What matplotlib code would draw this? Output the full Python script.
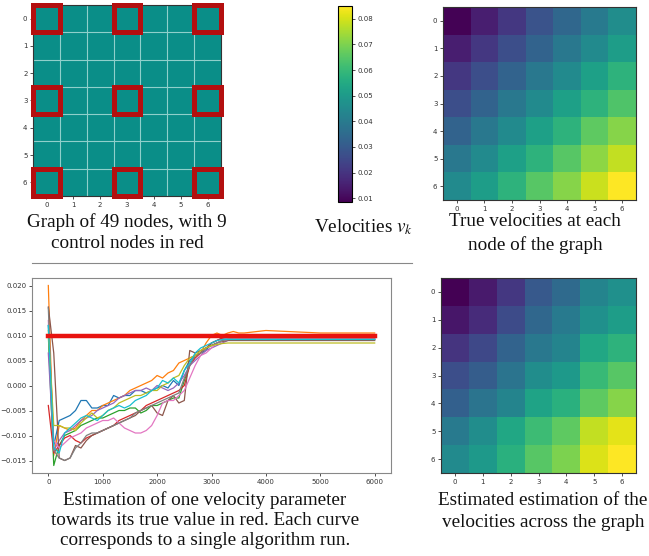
import numpy as np
import matplotlib
matplotlib.use("Agg")
import matplotlib.pyplot as plt
from matplotlib.patches import Rectangle
from matplotlib.colors import Normalize, ListedColormap

plt.rcParams["mathtext.fontset"] = "stix"

# data
n_side = 7
control_nodes = [0, 3, 6]
true_v = [
    [0.009, 0.015, 0.021, 0.028, 0.034, 0.040, 0.046],
    [0.015, 0.021, 0.027, 0.033, 0.039, 0.045, 0.051],
    [0.021, 0.027, 0.033, 0.039, 0.045, 0.052, 0.058],
    [0.027, 0.033, 0.039, 0.045, 0.052, 0.058, 0.064],
    [0.033, 0.039, 0.045, 0.052, 0.058, 0.066, 0.071],
    [0.039, 0.045, 0.052, 0.058, 0.065, 0.072, 0.078],
    [0.045, 0.051, 0.058, 0.065, 0.071, 0.079, 0.085],
]
est_v = [
    [0.008, 0.014, 0.021, 0.030, 0.035, 0.043, 0.047],
    [0.013, 0.018, 0.026, 0.034, 0.040, 0.047, 0.051],
    [0.020, 0.025, 0.033, 0.039, 0.043, 0.054, 0.058],
    [0.027, 0.031, 0.038, 0.046, 0.050, 0.060, 0.065],
    [0.032, 0.038, 0.043, 0.053, 0.057, 0.066, 0.071],
    [0.040, 0.046, 0.054, 0.061, 0.066, 0.078, 0.082],
    [0.045, 0.050, 0.057, 0.065, 0.070, 0.081, 0.086],
]
vmin, vmax = 0.0085, 0.085
cbar_ticks = [0.01, 0.02, 0.03, 0.04, 0.05, 0.06, 0.07, 0.08]

# iterations and runs (values in units of 1e-3)
iters = [0, 100, 200, 300, 400, 500, 600, 700, 800, 900, 1000, 1100, 1200,
         1300, 1400, 1500, 1600, 1700, 1800, 1900, 2000, 2100, 2200, 2300,
         2400, 2500, 2600, 2700, 2800, 2900, 3000, 3100, 3200, 3300, 3400,
         3500, 3600, 4000, 5000, 6000]
run_blue = [12, -12, -7, -6.5, -6, -5, -3, -3, -4.5, -4.5, -4, -4, -2, -2.5, -2,
            -2, -1, -1, -1.5, -1, -0.5, 0, -0.5, 1, 0, 3, 5, 6, 6.5, 7, 8.5, 9,
            9.5, 9.5, 9.5, 9.5, 9.5, 9.5, 9.5, 9.5]
run_orange = [20, -14, -8, -8.5, -9, -8.5, -7, -6, -5, -5, -4, -3.5, -3, -2.5,
              -2, -1, -0.5, 0, 0.5, 1, 2, 1.5, 2.5, 3, 4.5, 5, 5.5, 6, 6.5, 8.5,
              10, 10.5, 10, 10.5, 10.8, 10.5, 10.5, 11, 10.5, 10.5]
run_green = [10, -16, -12, -10, -9.5, -9, -8, -7.5, -7, -6.5, -6.5, -6, -5.5,
             -5, -5, -4.5, -4.5, -5.5, -5, -4, -4, -3.5, -3, -2.5, -2.5, 1, 4,
             6, 6.5, 7.5, 8, 8.5, 9, 9.2, 9.3, 9.3, 9.3, 9.3, 9.3, 9.3]
run_red = [-4, -13.5, -12, -10.5, -10, -11, -11.5, -10.5, -10, -9.5, -9, -8.5,
           -8, -7, -6.5, -6, -5.5, -5, -4, -3.5, -3, -2.5, -2, -1.5, -1, 0, 4,
           5.5, 6.5, 7.5, 8.5, 9, 9.5, 9.8, 9.8, 9.9, 10, 10, 10, 10]
run_purple = [6.5, -13, -11, -9.5, -9, -8, -7, -6.5, -6, -5, -4.5, -4, -3.5,
              -2.5, -2, -1.5, -1, -1, -0.5, -1, 0, -0.5, -1, -0.5, 0.5, 2, 4, 5,
              6, 7, 7.5, 8, 8.5, 9, 9.2, 9.2, 9.2, 9.2, 9.2, 9.2]
run_brown = [15.7, 6.5, -14.5, -15, -14.5, -12, -12.5, -11, -10, -9.5, -9, -8.5,
             -8, -7.5, -7, -6.5, -6, -5, -4.5, -4, -5.5, -6, -3, -2, -3.5, -3,
             7, 6.5, 7, 7.5, 8, 8.5, 8.8, 9, 9, 9, 9, 9, 9, 9]
run_pink = [13, -11, -12.5, -11.5, -10.5, -10, -9.5, -8.5, -8, -7.5, -7, -7,
            -6.5, -7.5, -8.5, -9, -9.5, -9.5, -9, -8, -6, -3.5, -3, -3, -2, -1,
            1.5, 4, 6, 6.5, 7.5, 8.5, 9, 9.2, 9.3, 9.3, 9.3, 9.3, 9.3, 9.3]
run_gray = [15.5, -13, -14.5, -15, -14.5, -12.5, -11.5, -10, -9.5, -9.5, -9,
            -8.5, -8, -7.5, -7, -6.5, -5.5, -5, -4.5, -4, -3.5, -3, -2.5, -2,
            -1.5, 1.5, 4, 6, 6.5, 7.5, 8, 8.5, 9, 9.2, 9.2, 9.2, 9.2, 9.2, 9.2,
            9.2]
run_olive = [11, -8, -8, -8.5, -8.5, -9, -7.5, -6.5, -5.5, -6.5, -6, -5, -4.5,
             -3.5, -3, -2.5, -2, -2, -1.5, -1, -1, 0, 0.5, 1.5, 2, 4, 5.5, 6, 7,
             7.5, 8, 8.2, 8.4, 8.5, 8.5, 8.5, 8.5, 8.5, 8.5, 8.5]
run_cyan = [12, -12.5, -13.5, -9.5, -8.5, -7.5, -6.5, -6, -6.5, -7, -6, -5,
            -4.5, -4, -4.5, -4, -3, -2.5, -2, -1, -0.5, 1, 0.5, 1.5, 0.5, 3,
            4.5, 6.5, 7.5, 8, 8.5, 9, 9.2, 9.2, 9.2, 9.2, 9.2, 9.2, 9.2, 9.2]
runs = [run_blue, run_orange, run_green, run_red, run_purple,
        run_brown, run_pink, run_gray, run_olive, run_cyan]
true_param = 0.010

W, H = 649, 556
fig = plt.figure(figsize=(W / 100, H / 100), dpi=100)

def box(x0, y0, x1, y1):
    # pixel box (top-left origin) -> figure fraction
    return [x0 / W, 1 - y1 / H, (x1 - x0) / W, (y1 - y0) / H]

serif = dict(family="Liberation Serif", fontsize=13.8, color="#111111",
             ha="center", va="baseline")
tick_kw = dict(labelsize=5, length=2.5, width=0.6, colors="#333333", pad=1.5)
norm = Normalize(vmin=vmin, vmax=vmax)

def style_heat(ax):
    ax.set_xticks(range(n_side))
    ax.set_yticks(range(n_side))
    ax.tick_params(**tick_kw)
    for s in ax.spines.values():
        s.set_color("#333333")
        s.set_linewidth(0.8)

# graph with control nodes
ax1 = fig.add_axes(box(33, 5, 221, 196))
ax1.imshow(np.zeros((n_side, n_side)), cmap=ListedColormap(["#0a8e88"]),
           aspect="auto")
for k in range(n_side - 1):
    ax1.axhline(k + 0.5, color="#8fd0cb", lw=0.8)
    ax1.axvline(k + 0.5, color="#8fd0cb", lw=0.8)
for i in control_nodes:
    for j in control_nodes:
        ax1.add_patch(Rectangle((j - 0.5, i - 0.5), 1, 1, fill=False,
                                edgecolor="#b30f0f", lw=3.6, clip_on=False,
                                zorder=5))
style_heat(ax1)
ax1.set_xlim(-0.5, 6.5)
ax1.set_ylim(6.5, -0.5)

# colorbar
cax = fig.add_axes(box(338, 6, 352, 202))
sm = plt.cm.ScalarMappable(norm=norm, cmap="viridis")
cb = fig.colorbar(sm, cax=cax, ticks=cbar_ticks)
cb.ax.tick_params(**tick_kw)
cb.ax.set_yticklabels([f"{t:.2f}" for t in cbar_ticks])
cb.outline.set_linewidth(0.8)

# true velocities
ax2 = fig.add_axes(box(443, 7, 636, 200))
ax2.imshow(np.array(true_v), cmap="viridis", norm=norm, aspect="auto")
style_heat(ax2)

# estimated velocities
ax4 = fig.add_axes(box(441, 278, 636, 473))
ax4.imshow(np.array(est_v), cmap="viridis", norm=norm, aspect="auto")
style_heat(ax4)

# convergence of one parameter
ax3 = fig.add_axes(box(32, 278, 391, 473))
for r in runs:
    ax3.plot(iters, np.array(r) * 1e-3, lw=0.9)
ax3.plot([iters[0], iters[-1]], [true_param, true_param], color="#e8130f",
         lw=3.2, zorder=10)
ax3.set_xticks([0, 1000, 2000, 3000, 4000, 5000, 6000])
ax3.set_yticks([-0.015, -0.010, -0.005, 0.0, 0.005, 0.010, 0.015, 0.020])
ax3.set_yticklabels(["\u22120.015", "\u22120.010", "\u22120.005", "0.000",
                     "0.005", "0.010", "0.015", "0.020"])
ax3.set_xlim(-300, 6300)
ax3.set_ylim(-0.0175, 0.0215)
ax3.tick_params(**tick_kw)
for s in ax3.spines.values():
    s.set_color("#888888")
    s.set_linewidth(0.8)

# captions (baselines in pixels)
def caption(x, y, s):
    fig.text(x / W, 1 - y / H, s, **serif)

caption(127, 227, "Graph of 49 nodes, with 9")
caption(127, 248, "control nodes in red")
caption(363, 232, "Velocities $v_k$")
caption(535, 226, "True velocities at each")
caption(535, 250, "node of the graph")
caption(205, 505, "Estimation of one velocity parameter")
caption(205, 525, "towards its true value in red. Each curve")
caption(205, 545, "corresponds to a single algorithm run.")
caption(543, 505, "Estimated estimation of the")
caption(543, 527, "velocities across the graph")

# separator
fig.add_artist(plt.Line2D([32 / W, 412 / W], [1 - 263 / H, 1 - 263 / H],
                          color="#888888", lw=0.8))

fig.savefig("out.png", dpi=100)
